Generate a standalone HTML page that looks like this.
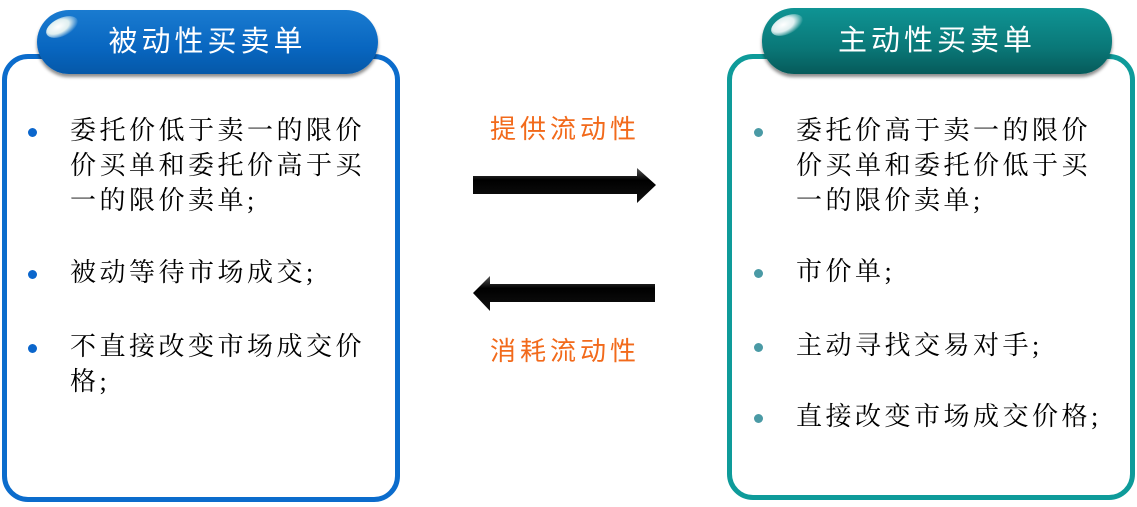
<!DOCTYPE html>
<html><head><meta charset="utf-8"><style>
body{margin:0;width:1137px;height:507px;background:#fff;position:relative;overflow:hidden;font-family:"Liberation Serif","Noto Serif CJK SC",serif;}
.box{position:absolute;border-radius:26px;box-sizing:border-box;background:#fff}
.hdr{position:absolute;border-radius:32px;color:#fff;font-family:"Liberation Sans","Noto Sans CJK SC",sans-serif;font-size:29px;letter-spacing:4px;text-align:center;line-height:64px;box-shadow:0 3px 3px rgba(0,0,0,0.45)}
.hl{position:absolute;width:34px;height:18px;border-radius:50%;background:radial-gradient(ellipse at 40% 40%,#fff 0%,#dfeff0 40%,rgba(255,255,255,0) 75%);transform:rotate(-25deg)}
.t{position:absolute;font-size:26px;letter-spacing:3.5px;line-height:35px;color:#000;white-space:nowrap}
.b{position:absolute;width:9px;height:9px;border-radius:50%}
.o{position:absolute;font-size:26px;color:#f26a1b;letter-spacing:4px;font-family:"Liberation Sans","Noto Sans CJK SC",sans-serif;white-space:nowrap}
</style></head><body>
<div class="box" style="left:2px;top:54px;width:398px;height:448px;border:5px solid #0b6ccc"></div>
<div class="hdr" style="left:37px;top:10px;width:341px;height:64px;background:linear-gradient(#1a7bd0,#0866c0 60%,#0558a8)">被动性买卖单</div>
<div class="hl" style="left:45px;top:18px"></div>

<div class="box" style="left:727px;top:54px;width:408px;height:446px;border:5px solid #0e9b9a"></div>
<div class="hdr" style="left:762px;top:8px;width:350px;height:66px;line-height:66px;background:linear-gradient(#0f9494,#0a7878 60%,#065a5a)">主动性买卖单</div>
<div class="hl" style="left:770px;top:16px"></div>

<div class="b" style="left:28px;top:128px;background:#0b66cc"></div>
<div class="t" style="left:70px;top:113px">委托价低于卖一的限价<br>价买单和委托价高于买<br>一的限价卖单;</div>
<div class="b" style="left:28px;top:270px;background:#0b66cc"></div>
<div class="t" style="left:70px;top:255px">被动等待市场成交;</div>
<div class="b" style="left:28px;top:344px;background:#0b66cc"></div>
<div class="t" style="left:70px;top:329px">不直接改变市场成交价<br>格;</div>

<div class="b" style="left:754px;top:128px;background:#4a9aa5"></div>
<div class="t" style="left:796px;top:113px">委托价高于卖一的限价<br>价买单和委托价低于买<br>一的限价卖单;</div>
<div class="b" style="left:754px;top:269px;background:#4a9aa5"></div>
<div class="t" style="left:796px;top:254px">市价单;</div>
<div class="b" style="left:754px;top:343px;background:#4a9aa5"></div>
<div class="t" style="left:796px;top:328px">主动寻找交易对手;</div>
<div class="b" style="left:754px;top:414px;background:#4a9aa5"></div>
<div class="t" style="left:796px;top:399px">直接改变市场成交价格;</div>

<div class="o" style="left:490px;top:109px">提供流动性</div>
<div class="o" style="left:490px;top:331px">消耗流动性</div>

<svg style="position:absolute;left:0;top:0" width="1137" height="507">
<defs><linearGradient id="g" x1="0" y1="0" x2="0" y2="1"><stop offset="0" stop-color="#555"/><stop offset="0.35" stop-color="#000"/><stop offset="1" stop-color="#111"/></linearGradient></defs>
<polygon points="473,176 637,176 637,168 656,185 637,203 637,194 473,194" fill="url(#g)"/>
<polygon points="655,284 490,284 490,276 473,293 490,311 490,302 655,302" fill="url(#g)"/>
</svg>
</body></html>
